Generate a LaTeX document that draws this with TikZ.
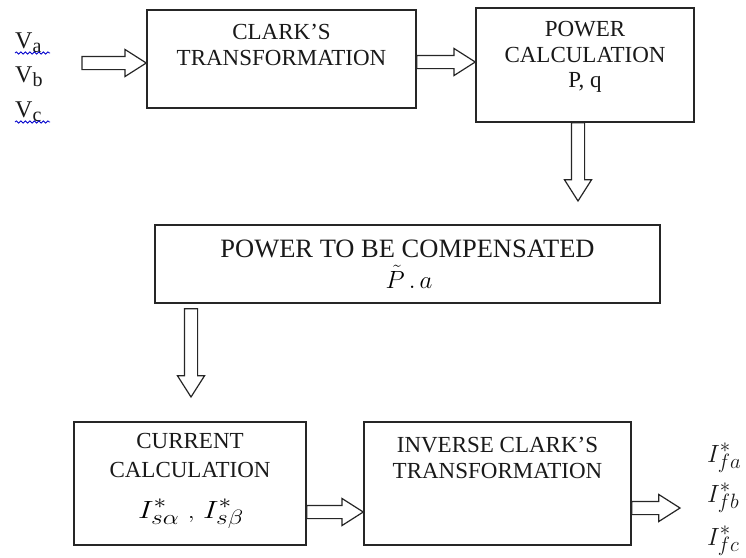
\documentclass[tikz,border=0pt]{standalone}
\usepackage{fontspec}
\setmainfont{Liberation Serif}
\usetikzlibrary{shapes.arrows,calc,decorations.pathmorphing}

% hollow block arrow laid along the segment between two named points
\newcommand\flowarrow[2]{%
  \path let \p1=($(#2)-(#1)$), \n1={veclen(\x1,\y1)} in
    (#1) -- node[flowhead, minimum height=\n1, sloped, allow upside down,
                 at start, anchor=tail] {} (#2);}

\begin{document}
\begin{tikzpicture}[x=1pt,y=-1pt,
  box/.style={draw=black!85, line width=1.5pt, rectangle, inner sep=0pt},
  flowhead/.style={single arrow, draw=black!85, line width=1.2pt, fill=white,
    minimum width=26pt, single arrow head extend=7pt, single arrow tip angle=65,
    inner xsep=0pt, inner ysep=6pt, outer sep=0pt},
  lbl/.style={align=center, anchor=north, inner sep=0pt, text=black!90,
    font=\fontsize{23}{25.5}\selectfont},
  sig/.style={anchor=base west, inner sep=0pt, text=black!90,
    font=\fontsize{24}{24}\selectfont},
  outsig/.style={anchor=base west, inner sep=0pt, text=black!90,
    font=\fontsize{29}{29}\selectfont},
  squiggle/.style={draw=blue!80!black, line width=0.8pt, decorate,
    decoration={snake, amplitude=1.1pt, segment length=4.5pt}}]

\useasboundingbox (0,0) rectangle (746,557);

% blocks
\node[box, minimum width=269pt, minimum height=98pt]  (clark)   at (281.5,59)  {};
\node[box, minimum width=218pt, minimum height=114pt] (power)   at (585,65)    {};
\node[box, minimum width=505pt, minimum height=78pt]  (comp)    at (407.5,264) {};
\node[box, minimum width=232pt, minimum height=123pt] (current) at (190,483.5) {};
\node[box, minimum width=267pt, minimum height=123pt] (inverse) at (497.5,483.5) {};

% block texts
\node[lbl] (clarkT) at ([yshift=-15.2pt]clark.north) {CLARK'S\\TRANSFORMATION};
\node[lbl] (powerT) at ([yshift=-14.2pt]power.north) {POWER\\CALCULATION\\P, q};
\node[lbl, font=\fontsize{26.5}{30}\selectfont] (compT) at ([yshift=-15.5pt]comp.north)
  {POWER TO BE COMPENSATED};
\node[anchor=base, inner sep=0pt, font=\fontsize{23}{23}\selectfont] (compM) at (409,288)
  {$\tilde{P}\,.\,a$};
\node[lbl, font=\fontsize{23}{29}\selectfont] (currentT) at ([yshift=-12.2pt]current.north)
  {CURRENT\\CALCULATION};
\node[anchor=base, inner sep=0pt, font=\fontsize{31}{31}\selectfont] (currentM) at (191,518)
  {\scalebox{1.22}[1]{$I^{*}_{s\alpha}\;{\scriptstyle ,}\;I^{*}_{s\beta}$}};
\node[lbl] (inverseT) at ([yshift=-16.2pt]inverse.north) {INVERSE CLARK'S\\TRANSFORMATION};

% input voltages
\node[sig] (va) at (15,48)  {V\raisebox{-4pt}{\fontsize{20}{20}\selectfont a}};
\node[sig] (vb) at (15,82)  {V\raisebox{-4pt}{\fontsize{20}{20}\selectfont b}};
\node[sig] (vc) at (15,117) {V\raisebox{-4pt}{\fontsize{20}{20}\selectfont c}};
\draw[squiggle] ([yshift=-5pt]va.base west) -- ++(35,0);
\draw[squiggle] ([yshift=-5pt]vc.base west) -- ++(35,0);

% reference currents
\node[outsig] (ifa) at (707,462) {$I^{*}_{fa}$};
\node[outsig] (ifb) at (707,502) {$I^{*}_{fb}$};
\node[outsig] (ifc) at (707,545) {$I^{*}_{fc}$};

% arrow end points
\coordinate (inS)  at (82,63);
\coordinate (inE)  at (clark.west |- inS);
\coordinate (r1)   at (0,62);
\coordinate (a1s)  at (clark.east |- r1);
\coordinate (a1e)  at (power.west |- r1);
\coordinate (a2s)  at (power.south -| 578,0);
\coordinate (a2e)  at (578,201);
\coordinate (a3s)  at ([yshift=-5pt]comp.south -| 191,0);
\coordinate (a3e)  at (191,397);
\coordinate (r2)   at (0,512);
\coordinate (a4s)  at (current.east |- r2);
\coordinate (a4e)  at (inverse.west |- r2);
\coordinate (r3)   at (0,508);
\coordinate (outS) at (inverse.east |- r3);
\coordinate (outE) at (680,508);

% signal flow
\flowarrow{inS}{inE}
\flowarrow{a1s}{a1e}
\flowarrow{a2s}{a2e}
\flowarrow{a3s}{a3e}
\flowarrow{a4s}{a4e}
\flowarrow{outS}{outE}
\end{tikzpicture}
\end{document}
